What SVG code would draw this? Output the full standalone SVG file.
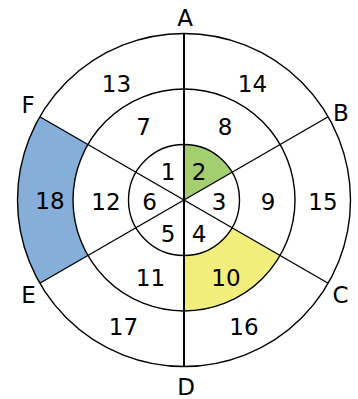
<svg xmlns="http://www.w3.org/2000/svg" width="358" height="399" viewBox="0 0 358 399">
<style>
.ring{fill:none;stroke:#000;stroke-width:1.4}
.ln{stroke:#000;stroke-width:1.4;fill:none}
.axis{stroke:#000;stroke-width:2;fill:none}
text{font-family:"DejaVu Sans",sans-serif;font-size:23px;fill:#000;text-anchor:middle}
.sec{stroke:none}
</style>
<rect width="358" height="399" fill="#fff"/>
<g id="shaded">
<path id="sector-2" class="sec" fill="#a3cf71" d="M184,200 L184,144.5 A55.5,55.5 0 0 1 232.06,172.25 Z"/>
<path id="sector-10" class="sec" fill="#f2ee7b" d="M184,255.5 L184,311 A111,111 0 0 0 280.13,255.5 L232.06,227.75 A55.5,55.5 0 0 1 184,255.5 Z"/>
<path id="sector-18" class="sec" fill="#85afd8" d="M39.81,116.75 A166.5,166.5 0 0 0 39.81,283.25 L87.87,255.5 A111,111 0 0 1 87.87,144.5 Z"/>
</g>
<g id="rings">
<circle class="ring" cx="184" cy="200" r="166.5"/>
<circle class="ring" cx="184" cy="200" r="111"/>
<circle class="ring" cx="184" cy="200" r="55.5"/>
</g>
<g id="connectors">
<line class="axis" x1="184" y1="33.5" x2="184" y2="366.5"/>
<line class="ln" x1="39.81" y1="116.75" x2="328.19" y2="283.25"/>
<line class="ln" x1="39.81" y1="283.25" x2="328.19" y2="116.75"/>
</g>
<g id="labels-outer">
<text x="185" y="25.5">A</text>
<text x="341" y="120.5">B</text>
<text x="340.5" y="303">C</text>
<text x="186" y="395">D</text>
<text x="28.5" y="303">E</text>
<text x="28" y="113">F</text>
</g>
<g id="labels-inner">
<text x="168" y="180">1</text>
<text x="199" y="180">2</text>
<text x="219" y="210">3</text>
<text x="199" y="241.5">4</text>
<text x="168" y="241.5">5</text>
<text x="149.5" y="210">6</text>
</g>
<g id="labels-middle">
<text x="143.5" y="135">7</text>
<text x="225" y="135">8</text>
<text x="268" y="210">9</text>
<text x="226" y="285.5">10</text>
<text x="150.5" y="285.5">11</text>
<text x="106" y="210">12</text>
</g>
<g id="labels-ring3">
<text x="116.5" y="92">13</text>
<text x="252.5" y="92">14</text>
<text x="323" y="210">15</text>
<text x="244" y="335">16</text>
<text x="123.5" y="335">17</text>
<text x="50" y="209">18</text>
</g>
</svg>
